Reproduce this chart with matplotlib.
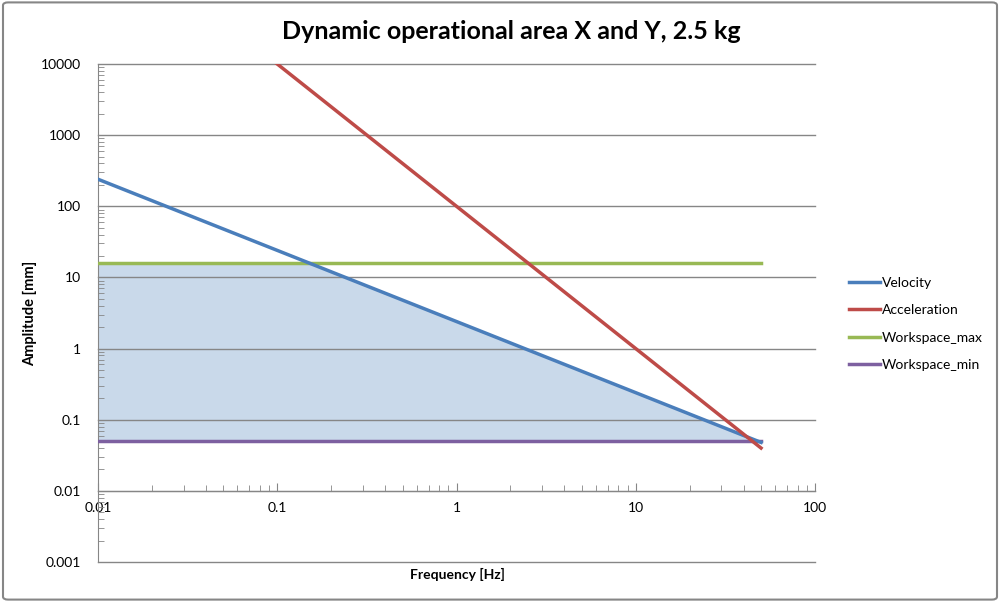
import numpy as np
import matplotlib
matplotlib.use("Agg")
from matplotlib import pyplot as plt
from matplotlib.patches import FancyBboxPatch
from matplotlib.ticker import LogLocator, NullFormatter, FixedFormatter, FixedLocator

plt.rcParams['font.family'] = ['Lato', 'DejaVu Sans']

# values
freq = [0.01, 0.1, 1, 10, 50]
velocity = [240, 24, 2.4, 0.24, 0.048]
acceleration = [1e6, 1e4, 100, 1, 0.04]
workspace_max = [16, 16, 16, 16, 16]
workspace_min = [0.05, 0.05, 0.05, 0.05, 0.05]

# boundary of the shaded operational area
area_freq = [0.01, 0.15, 50]
area_top = [16, 16, 0.048]
area_bottom = [0.05, 0.05, 0.05]

x_ticks = [0.01, 0.1, 1, 10, 100]
x_labels = ["0.01", "0.1", "1", "10", "100"]
y_ticks = [0.001, 0.01, 0.1, 1, 10, 100, 1000, 10000]
y_labels = ["0.001", "0.01", "0.1", "1", "10", "100", "1000", "10000"]

fig = plt.figure(figsize=(10, 6.02), dpi=100)
ax = fig.add_axes([0.098, 0.0664, 0.717, 0.8273])

ax.fill_between(area_freq, area_bottom, area_top, color="#c9d9ea", lw=0, zorder=1)
ax.plot(freq, velocity, color="#4a7ebb", lw=2.5, label="Velocity", zorder=4)
ax.plot(freq, acceleration, color="#be4b48", lw=2.5, label="Acceleration", zorder=5)
ax.plot(freq, workspace_max, color="#98b954", lw=2.5, label="Workspace_max", zorder=3)
ax.plot(freq, workspace_min, color="#7d60a0", lw=2.5, label="Workspace_min", zorder=3)

ax.set_xscale("log")
ax.set_yscale("log")
ax.set_xlim(0.01, 100)
ax.set_ylim(0.001, 10000)

for y in y_ticks:
    ax.axhline(y, color="#868686", lw=1, zorder=2, clip_on=False)

for s in ["top", "right"]:
    ax.spines[s].set_visible(False)
ax.spines["left"].set_color("#868686")
ax.spines["bottom"].set_color("#868686")
ax.spines["bottom"].set_position(("data", 0.01))
ax.spines["bottom"].set_zorder(2)

ax.xaxis.set_major_locator(FixedLocator(x_ticks))
ax.xaxis.set_major_formatter(FixedFormatter(x_labels))
ax.xaxis.set_minor_locator(LogLocator(base=10, subs=np.arange(2, 10), numticks=20))
ax.xaxis.set_minor_formatter(NullFormatter())
ax.yaxis.set_major_locator(FixedLocator(y_ticks))
ax.yaxis.set_major_formatter(FixedFormatter(y_labels))
ax.yaxis.set_minor_locator(LogLocator(base=10, subs=np.arange(2, 10), numticks=20))
ax.yaxis.set_minor_formatter(NullFormatter())

ax.tick_params(axis="x", which="major", direction="in", length=6, color="#868686",
               labelsize=10, pad=8)
ax.tick_params(axis="x", which="minor", direction="in", length=4, color="#868686")
ax.tick_params(axis="y", which="major", length=0, labelsize=10, pad=12)
ax.tick_params(axis="y", which="minor", direction="in", length=4, color="#868686")

fig.text(0.511, 0.947, "Dynamic operational area X and Y, 2.5 kg", ha="center", va="center",
         fontsize=18, fontweight="bold")
fig.text(0.457, 0.045, "Frequency [Hz]", ha="center", va="center", fontsize=10, fontweight="bold")
fig.text(0.030, 0.48, "Amplitude [mm]", ha="center", va="center", rotation=90,
         fontsize=10.5, fontweight="bold")

fig.legend(loc="center left", bbox_to_anchor=(0.836, 0.462), frameon=False, fontsize=10,
           handlelength=2.3, handletextpad=0.1, labelspacing=1.1)

fig.patches.append(FancyBboxPatch((0.003, 0.004), 0.994, 0.992, boxstyle="round,pad=0,rounding_size=0.005",
                                  transform=fig.transFigure, fill=False, edgecolor="#868686", lw=1.5))

fig.savefig("out.png", dpi=100)
